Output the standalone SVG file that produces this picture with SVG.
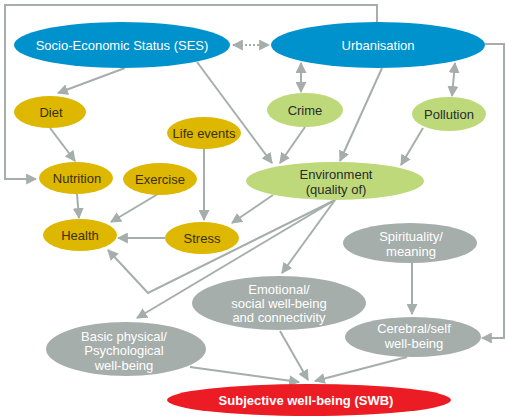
<svg xmlns="http://www.w3.org/2000/svg" width="506" height="417" viewBox="0 0 506 417">
<style>
text{font-family:"Liberation Sans",Arial,sans-serif;font-size:13px;text-anchor:middle}
.blue{fill:#0092CC}.yel{fill:#DDB700}.grn{fill:#BED97A}.gry{fill:#A6AEAB}.red{fill:#EC1C24}
.tw{fill:#ffffff}.td{fill:#3a3000}.tg{fill:#2b2b2b}
.c{fill:none;stroke:#A6AEAB;stroke-width:2}
.a{marker-end:url(#ah)}
.b{marker-start:url(#ah);marker-end:url(#ah)}
</style>
<defs>
<marker id="ah" markerUnits="userSpaceOnUse" viewBox="0 0 10 10" refX="9" refY="5" markerWidth="11" markerHeight="11" orient="auto-start-reverse">
<path d="M0,0 L10,5 L0,10 z" fill="#A6AEAB"/>
</marker>
</defs>
<g id="connectors">
<polyline class="c a" points="377,22 377,5 5,5 5,179 36,179"/>
<polyline class="c a" points="485,44 504,44 504,338 482,338"/>
<line class="c b" x1="233" y1="45" x2="269" y2="45" stroke-dasharray="2 2"/>
<line class="c a" x1="125" y1="68" x2="58" y2="93"/>
<line class="c a" x1="50" y1="128" x2="75" y2="161"/>
<line class="c a" x1="197" y1="62" x2="272" y2="163"/>
<line class="c a" x1="305" y1="127" x2="280" y2="163"/>
<line class="c b" x1="301" y1="63" x2="301" y2="92"/>
<line class="c a" x1="382" y1="68" x2="340" y2="161"/>
<line class="c b" x1="455" y1="63" x2="452" y2="96"/>
<line class="c a" x1="423" y1="128" x2="401" y2="165"/>
<line class="c a" x1="204" y1="149" x2="204" y2="220"/>
<line class="c a" x1="77" y1="194" x2="79" y2="218"/>
<line class="c a" x1="158" y1="194" x2="111" y2="222"/>
<line class="c a" x1="165" y1="238" x2="118" y2="238"/>
<line class="c a" x1="273" y1="195" x2="232" y2="223"/>
<polyline class="c a" points="335,200 148,293 108,250"/>
<line class="c a" x1="335" y1="200" x2="137" y2="318"/>
<line class="c a" x1="335" y1="200" x2="282" y2="273"/>
<line class="c a" x1="412" y1="263" x2="412" y2="314"/>
<line class="c a" x1="190" y1="367" x2="299" y2="382"/>
<line class="c a" x1="280" y1="331" x2="308" y2="380"/>
<line class="c a" x1="407" y1="357" x2="315" y2="381"/>
</g>
<g id="ses"><ellipse class="blue" cx="122" cy="45" rx="108" ry="23"/><text class="tw" x="122" y="50" font-size="12.5">Socio-Economic Status (SES)</text></g>
<g id="urbanisation"><ellipse class="blue" cx="378" cy="45" rx="107" ry="23"/><text class="tw" x="378" y="50">Urbanisation</text></g>
<g id="diet"><ellipse class="yel" cx="50" cy="112" rx="36" ry="16"/><text class="td" x="51" y="117">Diet</text></g>
<g id="life-events"><ellipse class="yel" cx="204" cy="133" rx="37" ry="16"/><text class="td" x="204" y="138">Life events</text></g>
<g id="nutrition"><ellipse class="yel" cx="76" cy="178" rx="37" ry="16"/><text class="td" x="77" y="183">Nutrition</text></g>
<g id="exercise"><ellipse class="yel" cx="160" cy="179" rx="37" ry="16"/><text class="td" x="160" y="184">Exercise</text></g>
<g id="health"><ellipse class="yel" cx="80" cy="235" rx="37" ry="16"/><text class="td" x="80" y="240">Health</text></g>
<g id="stress"><ellipse class="yel" cx="202" cy="238" rx="37" ry="16"/><text class="td" x="202" y="243">Stress</text></g>
<g id="crime"><ellipse class="grn" cx="305" cy="110" rx="38" ry="17"/><text class="tg" x="305" y="115">Crime</text></g>
<g id="pollution"><ellipse class="grn" cx="449" cy="114" rx="37" ry="17"/><text class="tg" x="449" y="119">Pollution</text></g>
<g id="environment"><ellipse class="grn" cx="335" cy="181" rx="89" ry="19"/><text class="tg" x="336" y="179">Environment</text><text class="tg" x="336" y="194">(quality of)</text></g>
<g id="spirituality"><ellipse class="gry" cx="410" cy="243" rx="67" ry="20"/><text class="tw" x="411" y="241">Spirituality/</text><text class="tw" x="411" y="256">meaning</text></g>
<g id="emotional"><ellipse class="gry" cx="279" cy="303" rx="87" ry="27"/><text class="tw" x="279" y="294">Emotional/</text><text class="tw" x="279" y="308">social well-being</text><text class="tw" x="279" y="322">and connectivity</text></g>
<g id="cerebral"><ellipse class="gry" cx="413" cy="337" rx="68" ry="20"/><text class="tw" x="414" y="333">Cerebral/self</text><text class="tw" x="414" y="348">well-being</text></g>
<g id="basic"><ellipse class="gry" cx="126" cy="349" rx="80" ry="27"/><text class="tw" x="124" y="341">Basic physical/</text><text class="tw" x="124" y="355">Psychological</text><text class="tw" x="124" y="370">well-being</text></g>
<g id="swb"><ellipse class="red" cx="309" cy="400" rx="142" ry="16"/><text class="tw" x="306" y="405" font-size="12" font-weight="bold">Subjective well-being (SWB)</text></g>
</svg>
